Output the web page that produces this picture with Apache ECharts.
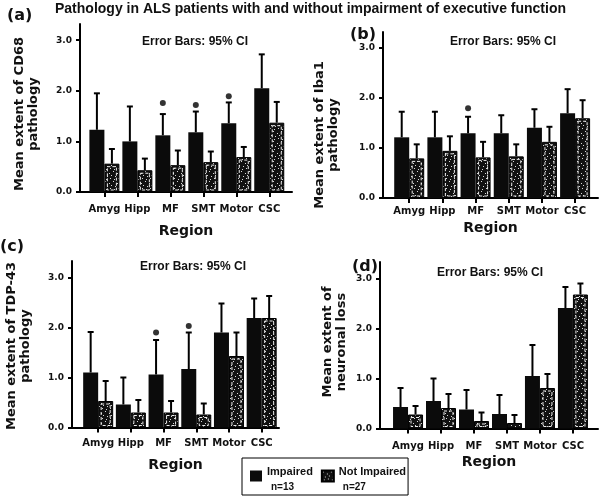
<!DOCTYPE html>
<html>
<head>
<meta charset="utf-8">
<script src="https://cdn.jsdelivr.net/npm/echarts@6/dist/echarts.min.js"></script>
<style>html,body{margin:0;padding:0;background:#fff}#chart{width:600px;height:501px}</style>
</head>
<body>
<div id="chart"></div>
<script>
// ---------- data ----------
const categories = ['Amyg', 'Hipp', 'MF', 'SMT', 'Motor', 'CSC'];
const yTickValues = [0, 1, 2, 3];
const legendNames = ['Impaired', 'Not Impaired'];
const legendN = [13, 27];
const mainTitle = 'Pathology in ALS patients with and without impairment of executive function';
const ciNote = 'Error Bars: 95% CI';
const xName = 'Region';

// (a) CD68
const aImpaired      = [1.23, 1.00, 1.12, 1.18, 1.36, 2.05];
const aImpairedCI    = [1.95, 1.69, 1.54, 1.59, 1.77, 2.72];
const aNotImpaired   = [0.56, 0.43, 0.53, 0.59, 0.69, 1.37];
const aNotImpairedCI = [0.85, 0.66, 0.82, 0.80, 0.89, 1.78];
const aStars         = [null, null, 1.76, 1.72, 1.89, null];
const aYName = 'Mean extent of CD68\npathology';

// (b) Iba1
const bImpaired      = [1.21, 1.21, 1.29, 1.29, 1.40, 1.69];
const bImpairedCI    = [1.72, 1.72, 1.62, 1.65, 1.77, 2.17];
const bNotImpaired   = [0.79, 0.94, 0.81, 0.83, 1.12, 1.59];
const bNotImpairedCI = [1.07, 1.23, 1.12, 1.07, 1.42, 1.95];
const bStars         = [null, null, 1.79, null, null, null];
const bYName = 'Mean extent of Iba1\npathology';

// (c) TDP-43
const cImpaired      = [1.10, 0.46, 1.06, 1.17, 1.90, 2.19];
const cImpairedCI    = [1.91, 1.00, 1.75, 1.90, 2.48, 2.58];
const cNotImpaired   = [0.53, 0.30, 0.30, 0.26, 1.43, 2.19];
const cNotImpairedCI = [0.93, 0.55, 0.53, 0.48, 1.90, 2.63];
const cStars         = [null, null, 1.90, 2.03, null, null];
const cYName = 'Mean extent of TDP-43\npathology';

// (d) neuronal loss
const dImpaired      = [0.43, 0.55, 0.38, 0.29, 1.05, 2.41];
const dImpairedCI    = [0.81, 1.00, 0.77, 0.67, 1.67, 2.83];
const dNotImpaired   = [0.28, 0.41, 0.15, 0.11, 0.81, 2.68];
const dNotImpairedCI = [0.45, 0.69, 0.32, 0.27, 1.09, 2.90];
const dStars         = [null, null, null, null, null, null];
const dYName = 'Mean extent of\nneuronal loss';

const panelLetters = ['(a)', '(b)', '(c)', '(d)'];

// ---------- layout (styles/positions) ----------
const panels = [
  {imp: aImpaired, impCI: aImpairedCI, not: aNotImpaired, notCI: aNotImpairedCI, stars: aStars, yName: aYName},
  {imp: bImpaired, impCI: bImpairedCI, not: bNotImpaired, notCI: bNotImpairedCI, stars: bStars, yName: bYName},
  {imp: cImpaired, impCI: cImpairedCI, not: cNotImpaired, notCI: cNotImpairedCI, stars: cStars, yName: cYName},
  {imp: dImpaired, impCI: dImpairedCI, not: dNotImpaired, notCI: dNotImpairedCI, stars: dStars, yName: dYName}
];
const layout = [
  {left: 80,  top: 24,  width: 212, height: 168,   xMin: -0.74, xMax: 5.69, yMax: 3.32, labM: 12, nameGap: 32,
   letter: [7, 8], note: [142, 36], yNamePos: [27, 114]},
  {left: 383, top: 32,  width: 215, height: 166,   xMin: -0.79, xMax: 5.69, yMax: 3.31, labM: 8, nameGap: 23,
   letter: [350, 27], note: [450, 36], yNamePos: [327, 135]},
  {left: 72,  top: 261, width: 207, height: 166.5, xMin: -0.80, xMax: 5.53, yMax: 3.33, labM: 11, nameGap: 31,
   letter: [0, 239], note: [140, 261], yNamePos: [19, 346]},
  {left: 380, top: 262, width: 218, height: 166.5, xMin: -0.85, xMax: 5.76, yMax: 3.33, labM: 13, nameGap: 27,
   letter: [352, 259], note: [437, 267], yNamePos: [335, 342]}
];

const BW = 15; // bar width px
const boldFont = 'DejaVu Sans';

// speckle texture for "Not impaired"
function makePattern() {
  const c = document.createElement('canvas');
  c.width = 8; c.height = 10;
  const ctx = c.getContext('2d');
  ctx.fillStyle = '#111';
  ctx.fillRect(0, 0, 8, 10);
  ctx.fillStyle = '#d8d8d8';
  [[1,1],[5,3],[3,6],[6,8],[2,9],[7,5]].forEach(p => ctx.fillRect(p[0], p[1], 1, 1));
  return c;
}
const patternImg = makePattern();

const grids = [], xAxes = [], yAxes = [], series = [], titles = [], graphics = [];

titles.push({text: mainTitle, left: 55, top: 2, padding: 0,
  textStyle: {fontFamily: 'Liberation Sans', fontWeight: 'bold', fontSize: 14, color: '#111'}});

function errRender(offset) {
  return function (params, api) {
    const x = api.value(0);
    const base = api.coord([x, api.value(1)]);
    const top = api.coord([x, api.value(2)]);
    const cx = base[0] + offset;
    return {type: 'group', children: [
      {type: 'line', shape: {x1: cx, y1: base[1], x2: cx, y2: top[1]}, style: {stroke: '#000', lineWidth: 2}},
      {type: 'line', shape: {x1: cx - 3, y1: top[1], x2: cx + 3, y2: top[1]}, style: {stroke: '#000', lineWidth: 2}}
    ]};
  };
}
function innerRender(params, api) {
  const x = api.value(0);
  const t = api.coord([x, api.value(1)]);
  const b = api.coord([x, 0]);
  const x0 = t[0] + 3, x1 = t[0] + BW - 3;
  const y0 = t[1] + 3, y1 = b[1] - 2;
  if (y1 - y0 < 2) return null;
  return {type: 'rect', shape: {x: x0, y: y0, width: x1 - x0, height: y1 - y0},
    style: {fill: null, stroke: '#eee', lineWidth: 1, lineDash: [3, 2]}};
}

panels.forEach((p, k) => {
  const L = layout[k];
  grids.push({left: L.left, top: L.top, width: L.width, height: L.height});
  xAxes.push({
    type: 'value', gridIndex: k, min: L.xMin, max: L.xMax,
    name: xName, nameLocation: 'middle', nameGap: L.nameGap,
    nameTextStyle: {fontFamily: boldFont, fontWeight: 'bold', fontSize: 14, color: '#111'},
    axisLine: {show: true, onZero: false, lineStyle: {color: '#000', width: 2}},
    axisTick: {show: true, length: 5, lineStyle: {color: '#000', width: 2}, customValues: [0, 1, 2, 3, 4, 5]},
    axisLabel: {customValues: [0, 1, 2, 3, 4, 5], margin: L.labM, formatter: v => categories[Math.round(v)] || '',
      fontFamily: boldFont, fontWeight: 'bold', fontSize: 10, color: '#111'},
    splitLine: {show: false}
  });
  yAxes.push({
    type: 'value', gridIndex: k, min: 0, max: L.yMax,
    axisLine: {show: true, onZero: false, lineStyle: {color: '#000', width: 2}},
    axisTick: {show: true, length: 4, lineStyle: {color: '#000', width: 2}, customValues: yTickValues},
    axisLabel: {customValues: yTickValues, margin: 8, formatter: v => v.toFixed(1),
      fontFamily: boldFont, fontWeight: 'bold', fontSize: 9, color: '#111'},
    splitLine: {show: false}
  });
  series.push({
    name: legendNames[0], type: 'bar', xAxisIndex: k, yAxisIndex: k,
    barWidth: BW, barGap: '0%',
    itemStyle: {color: '#0b0b0b'},
    data: p.imp.map((v, i) => [i, v]), z: 2
  });
  series.push({
    name: legendNames[1], type: 'bar', xAxisIndex: k, yAxisIndex: k,
    barWidth: BW, barGap: '0%',
    itemStyle: {color: {image: patternImg, repeat: 'repeat'}, borderColor: '#000', borderWidth: 1},
    data: p.not.map((v, i) => [i, v]), z: 2
  });
  series.push({
    type: 'custom', xAxisIndex: k, yAxisIndex: k, renderItem: innerRender, z: 3, silent: true,
    data: p.not.map((v, i) => [i, v])
  });
  series.push({
    type: 'custom', xAxisIndex: k, yAxisIndex: k, renderItem: errRender(-BW / 2), z: 4, silent: true,
    data: p.imp.map((v, i) => [i, v, p.impCI[i]])
  });
  series.push({
    type: 'custom', xAxisIndex: k, yAxisIndex: k, renderItem: errRender(BW / 2), z: 4, silent: true,
    data: p.not.map((v, i) => [i, v, p.notCI[i]])
  });
  series.push({
    type: 'scatter', xAxisIndex: k, yAxisIndex: k, symbol: 'circle', symbolSize: 6,
    symbolOffset: [-BW / 2, 0], itemStyle: {color: '#000'}, z: 5, silent: true,
    data: p.stars.map((v, i) => v == null ? null : [i, v]).filter(d => d)
  });
  titles.push({text: panelLetters[k], left: L.letter[0], top: L.letter[1], padding: 0,
    textStyle: {fontFamily: boldFont, fontWeight: 'bold', fontSize: 16, color: '#111'}});
  titles.push({text: ciNote, left: L.note[0], top: L.note[1], padding: 0,
    textStyle: {fontFamily: 'Liberation Sans', fontWeight: 'bold', fontSize: 12, color: '#111'}});
  graphics.push({type: 'text', x: L.yNamePos[0], y: L.yNamePos[1], rotation: Math.PI / 2,
    style: {text: p.yName, fontFamily: boldFont, fontWeight: 'bold', fontSize: 13, lineHeight: 14,
      fill: '#111', align: 'center', verticalAlign: 'middle'}});
});

const option = {
  animation: false,
  backgroundColor: '#fff',
  title: titles,
  grid: grids,
  xAxis: xAxes,
  yAxis: yAxes,
  series: series,
  graphic: graphics,
  legend: {
    data: legendNames, left: 242, top: 458, orient: 'horizontal',
    borderColor: '#000', borderWidth: 1, padding: [0, 2, 3, 8], itemGap: 8,
    itemWidth: 12, itemHeight: 11, icon: 'rect',
    formatter: name => {
      const i = legendNames.indexOf(name);
      return '{s| }\n{t|' + name + '}\n{n|n=' + legendN[i] + '}';
    },
    textStyle: {
      rich: {
        s: {fontSize: 6, lineHeight: 7},
        t: {fontFamily: 'Liberation Sans', fontWeight: 'bold', fontSize: 11, lineHeight: 15, color: '#111'},
        n: {fontFamily: 'Liberation Sans', fontWeight: 'bold', fontSize: 10, lineHeight: 15, color: '#111', padding: [0, 0, 0, 4]}
      }
    }
  }
};

const chart = echarts.init(document.getElementById('chart'), null, {renderer: 'canvas'});
chart.setOption(option);
</script>
</body>
</html>
